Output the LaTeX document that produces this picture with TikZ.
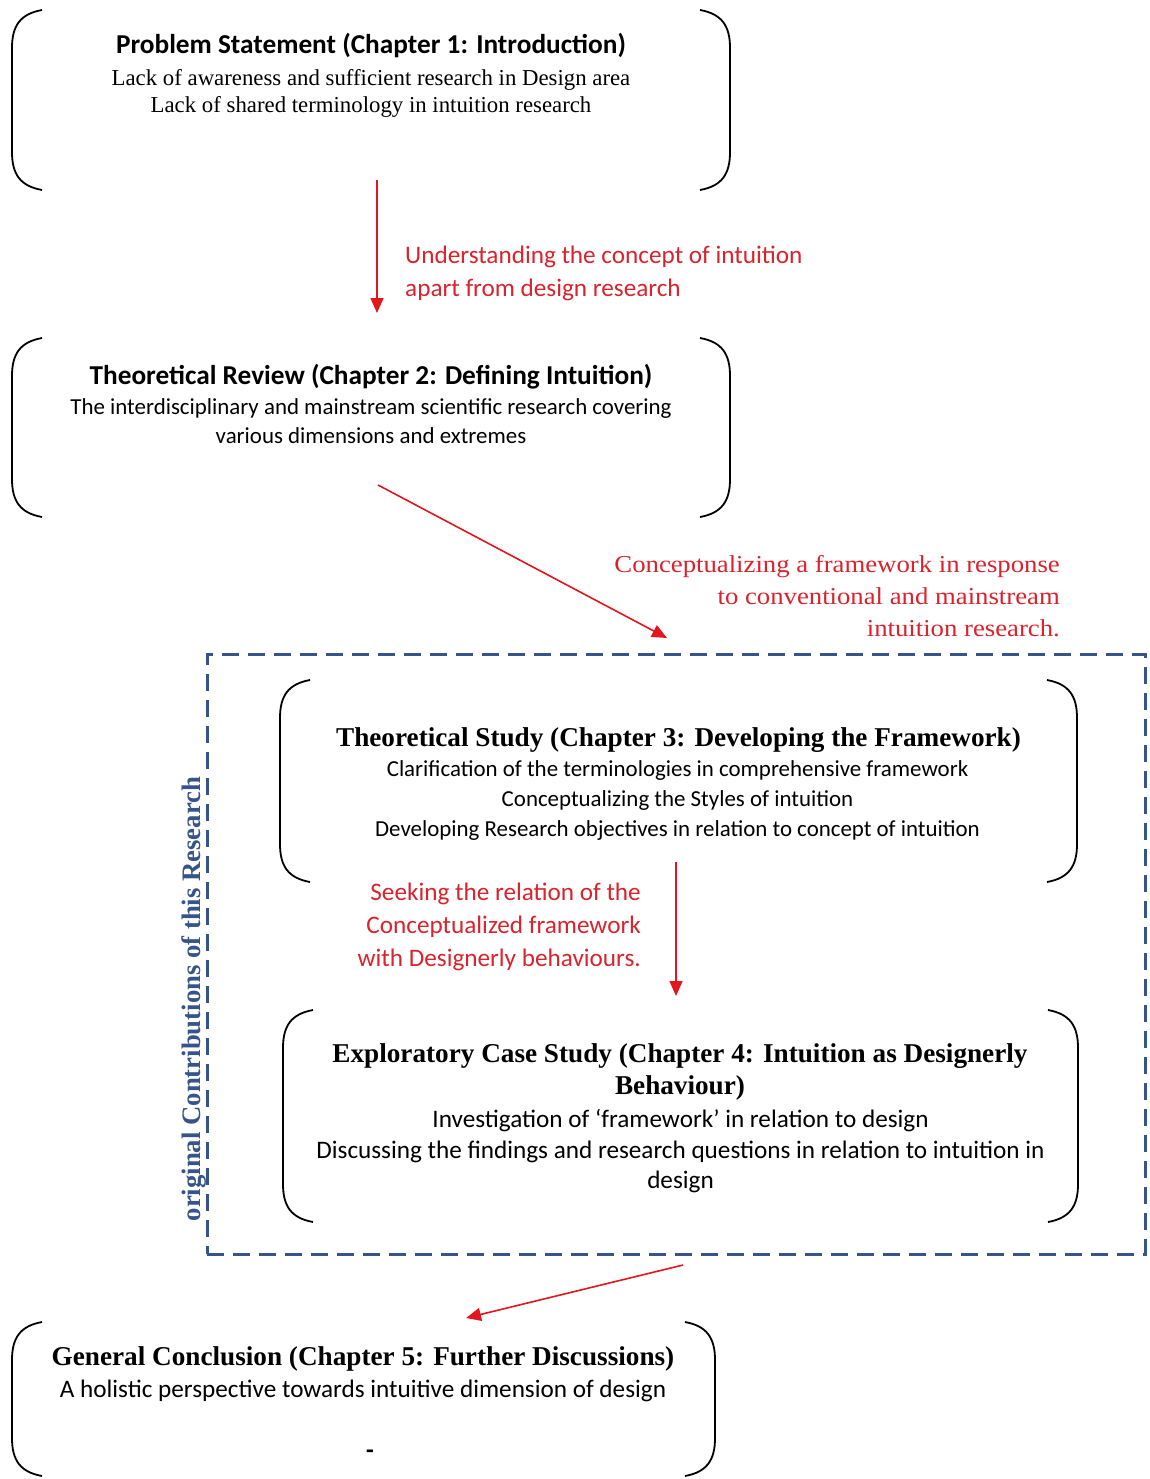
\documentclass[tikz,border=0pt]{standalone}
\usepackage{fontspec}
\setmainfont{Liberation Serif}
\newfontfamily\calfont{Carlito}
\newfontfamily\tnrfont{Liberation Serif}
\newfontfamily\cambfont[FakeStretch=1.1]{Liberation Serif}
\usetikzlibrary{arrows.meta,calc}
\definecolor{arrred}{HTML}{E3161E}
\definecolor{txtred}{HTML}{D9232D}
\definecolor{dblue}{HTML}{365489}
\tikzset{
  boxarea/.style={inner sep=0pt, outer sep=0pt, draw=none},
  bracket/.style={draw=black, line width=1.8pt},
  redarrow/.style={draw=arrred, line width=1.6pt, -{Triangle[length=15pt,width=13pt]}},
  txt/.style={inner sep=0pt, anchor=base},
  caltitle/.style={txt, font=\calfont\bfseries\fontsize{27.3}{32}\selectfont},
  calbody/.style={txt, font=\calfont\fontsize{22.9}{28}\selectfont},
  calbodyb/.style={txt, font=\calfont\fontsize{25.2}{30}\selectfont},
  tnrtitle/.style={txt, font=\tnrfont\bfseries\fontsize{27.2}{32}\selectfont},
  tnrbody/.style={txt, font=\tnrfont\fontsize{22.8}{27}\selectfont},
  redlabel/.style={txt, font=\calfont\fontsize{25.2}{30}\selectfont, text=txtred},
  cambred/.style={txt, font=\cambfont\fontsize{24.3}{30}\selectfont, text=txtred},
  frame/.style={draw=dblue, line width=3pt, dash pattern=on 17pt off 9pt, inner sep=0pt, outer sep=0pt},
  vtext/.style={font=\tnrfont\bfseries\fontsize{26.7}{30}\selectfont, text=dblue, rotate=90, anchor=base, inner sep=0pt}
}
\newcommand\brk[1]{%
  \draw[bracket] ([xshift=30pt]#1.north west) .. controls ([xshift=8pt,yshift=-4pt]#1.north west) and ([yshift=-16pt]#1.north west) .. ([yshift=-38pt]#1.north west)
    -- ([yshift=38pt]#1.south west) .. controls ([yshift=16pt]#1.south west) and ([xshift=8pt,yshift=4pt]#1.south west) .. ([xshift=30pt]#1.south west);
  \draw[bracket] ([xshift=-30pt]#1.north east) .. controls ([xshift=-8pt,yshift=-4pt]#1.north east) and ([yshift=-16pt]#1.north east) .. ([yshift=-38pt]#1.north east)
    -- ([yshift=38pt]#1.south east) .. controls ([yshift=16pt]#1.south east) and ([xshift=-8pt,yshift=4pt]#1.south east) .. ([xshift=-30pt]#1.south east);}
\begin{document}
\begin{tikzpicture}[x=1pt,y=-1pt]
\useasboundingbox[fill=white] (0,0) rectangle (1149,1479);
% boxes
\node[boxarea, minimum width=718pt, minimum height=180pt] (b1) at (371,100) {};
\node[boxarea, minimum width=718pt, minimum height=179pt] (b2) at (371,427.5) {};
\node[boxarea, minimum width=797pt, minimum height=202pt] (b3) at (678.5,781) {};
\node[boxarea, minimum width=795pt, minimum height=212pt] (b4) at (680.5,1116) {};
\node[boxarea, minimum width=703pt, minimum height=154pt] (b5) at (363.5,1399) {};
\node[frame, minimum width=938pt, minimum height=600pt] (fr) at (676,954) {};
\brk{b1}\brk{b2}\brk{b3}\brk{b4}\brk{b5}
% box 1
\node[caltitle] (t1) at (371,54) {Problem Statement (Chapter 1: Introduction)};
\node[tnrbody] (d1a) at (371,86) {Lack of awareness and sufficient research in Design area};
\node[tnrbody] (d1b) at (371,113) {Lack of shared terminology in intuition research};
% box 2
\node[caltitle] (t2) at (371,384) {Theoretical Review (Chapter 2: Defining Intuition)};
\node[calbody] (d2a) at (371,414) {The interdisciplinary and mainstream scientific research covering};
\node[calbody] (d2b) at (371,443) {various dimensions and extremes};
% box 3
\node[tnrtitle] (t3) at (678.5,746) {Theoretical Study (Chapter 3: Developing the Framework)};
\node[calbody] (d3a) at (677.5,776) {Clarification of the terminologies in comprehensive framework};
\node[calbody] (d3b) at (677.5,806) {Conceptualizing the Styles of intuition};
\node[calbody] (d3c) at (677.5,836) {Developing Research objectives in relation to concept of intuition};
% box 4
\node[tnrtitle] (t4a) at (680,1062) {Exploratory Case Study (Chapter 4: Intuition as Designerly};
\node[tnrtitle] (t4b) at (680,1094) {Behaviour)};
\node[calbodyb] (d4a) at (680.5,1127) {Investigation of ‘framework’ in relation to design};
\node[calbodyb] (d4b) at (680.5,1158) {Discussing the findings and research questions in relation to intuition in};
\node[calbodyb] (d4c) at (680.5,1188) {design};
% box 5
\node[tnrtitle] (t5) at (363,1365) {General Conclusion (Chapter 5: Further Discussions)};
\node[calbodyb] (d5) at (363,1397) {A holistic perspective towards intuitive dimension of design};
\node[calbodyb, font=\calfont\bfseries\fontsize{25.2}{30}\selectfont] (d5b) at (370,1458) {-};
% vertical label
\node[vtext] (vl) at (200,999) {original Contributions of this Research};
% arrows
\coordinate (a1s) at (377,180); \coordinate (a1e) at (377,313);
\coordinate (a2s) at (378,485); \coordinate (a2e) at (667,638);
\coordinate (a3s) at (676,862); \coordinate (a3e) at (676,996);
\coordinate (a4s) at (683,1265); \coordinate (a4e) at (466,1318);
\draw[redarrow] (a1s) -- (a1e);
\draw[redarrow] (a2s) -- (a2e);
\draw[redarrow] (a3s) -- (a3e);
\draw[redarrow] (a4s) -- (a4e);
% labels
\node[redlabel, anchor=base west] (l1a) at (405,263) {Understanding the concept of intuition};
\node[redlabel, anchor=base west] (l1b) at (405,296) {apart from design research};
\node[cambred, anchor=base east] (l2a) at (1060,572) {Conceptualizing a framework in response};
\node[cambred, anchor=base east] (l2b) at (1060,604) {to conventional and mainstream};
\node[cambred, anchor=base east] (l2c) at (1060,636) {intuition research.};
\node[redlabel, anchor=base east] (l3a) at (641,900) {Seeking the relation of the};
\node[redlabel, anchor=base east] (l3b) at (641,933) {Conceptualized framework};
\node[redlabel, anchor=base east] (l3c) at (641,966) {with Designerly behaviours.};
\end{tikzpicture}
\end{document}
